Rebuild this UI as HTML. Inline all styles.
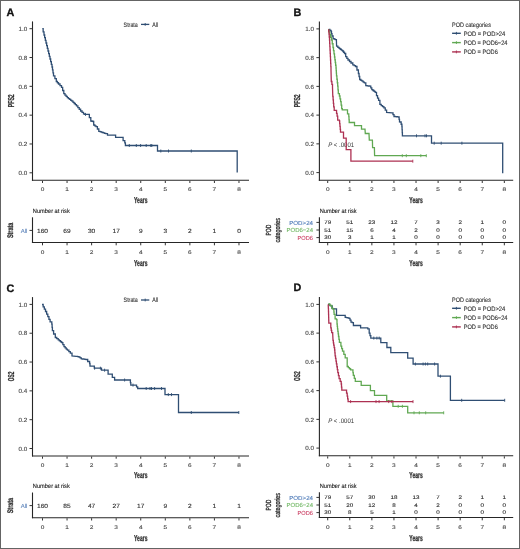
<!DOCTYPE html>
<html><head><meta charset="utf-8"><style>
html,body{margin:0;padding:0;background:#fff;}
#f{position:relative;width:520px;height:549px;overflow:hidden;background:#fff;}
#f svg{position:absolute;left:0;top:0;will-change:transform;}
#f svg text{font-family:"Liberation Sans", sans-serif;text-rendering:geometricPrecision;}
#bd{position:absolute;left:0;top:0;width:518px;height:547px;border:1px solid #646464;}
</style></head><body><div id="f">
<svg width="520" height="549" viewBox="0 0 520 549">
<text x="6.40" y="15.80" font-size="10.8" text-anchor="start" fill="#111" font-weight="bold" stroke="#111" stroke-width="0.3" stroke-linejoin="round">A</text>
<line x1="32.50" y1="21.40" x2="32.50" y2="180.80" stroke="#262626" stroke-width="1.1"/>
<line x1="31.95" y1="180.30" x2="249.00" y2="180.30" stroke="#262626" stroke-width="1.1"/>
<line x1="29.50" y1="172.80" x2="32.50" y2="172.80" stroke="#333" stroke-width="1.0"/>
<text x="27.20" y="174.98" font-size="6.1" text-anchor="end" fill="#474747" font-weight="normal" textLength="8.73" lengthAdjust="spacingAndGlyphs" stroke="#474747" stroke-width="0.12" stroke-linejoin="round">0.0</text>
<line x1="29.50" y1="143.98" x2="32.50" y2="143.98" stroke="#333" stroke-width="1.0"/>
<text x="27.20" y="146.16" font-size="6.1" text-anchor="end" fill="#474747" font-weight="normal" textLength="8.73" lengthAdjust="spacingAndGlyphs" stroke="#474747" stroke-width="0.12" stroke-linejoin="round">0.2</text>
<line x1="29.50" y1="115.16" x2="32.50" y2="115.16" stroke="#333" stroke-width="1.0"/>
<text x="27.20" y="117.34" font-size="6.1" text-anchor="end" fill="#474747" font-weight="normal" textLength="8.73" lengthAdjust="spacingAndGlyphs" stroke="#474747" stroke-width="0.12" stroke-linejoin="round">0.4</text>
<line x1="29.50" y1="86.34" x2="32.50" y2="86.34" stroke="#333" stroke-width="1.0"/>
<text x="27.20" y="88.52" font-size="6.1" text-anchor="end" fill="#474747" font-weight="normal" textLength="8.73" lengthAdjust="spacingAndGlyphs" stroke="#474747" stroke-width="0.12" stroke-linejoin="round">0.6</text>
<line x1="29.50" y1="57.52" x2="32.50" y2="57.52" stroke="#333" stroke-width="1.0"/>
<text x="27.20" y="59.70" font-size="6.1" text-anchor="end" fill="#474747" font-weight="normal" textLength="8.73" lengthAdjust="spacingAndGlyphs" stroke="#474747" stroke-width="0.12" stroke-linejoin="round">0.8</text>
<line x1="29.50" y1="28.70" x2="32.50" y2="28.70" stroke="#333" stroke-width="1.0"/>
<text x="27.20" y="30.88" font-size="6.1" text-anchor="end" fill="#474747" font-weight="normal" textLength="8.73" lengthAdjust="spacingAndGlyphs" stroke="#474747" stroke-width="0.12" stroke-linejoin="round">1.0</text>
<line x1="42.50" y1="180.80" x2="42.50" y2="183.00" stroke="#333" stroke-width="1.0"/>
<text x="42.50" y="191.13" font-size="5.4" text-anchor="middle" fill="#474747" font-weight="normal" textLength="3.6" lengthAdjust="spacingAndGlyphs" stroke="#474747" stroke-width="0.12" stroke-linejoin="round">0</text>
<line x1="67.06" y1="180.80" x2="67.06" y2="183.00" stroke="#333" stroke-width="1.0"/>
<text x="67.06" y="191.13" font-size="5.4" text-anchor="middle" fill="#474747" font-weight="normal" textLength="3.6" lengthAdjust="spacingAndGlyphs" stroke="#474747" stroke-width="0.12" stroke-linejoin="round">1</text>
<line x1="91.62" y1="180.80" x2="91.62" y2="183.00" stroke="#333" stroke-width="1.0"/>
<text x="91.62" y="191.13" font-size="5.4" text-anchor="middle" fill="#474747" font-weight="normal" textLength="3.6" lengthAdjust="spacingAndGlyphs" stroke="#474747" stroke-width="0.12" stroke-linejoin="round">2</text>
<line x1="116.18" y1="180.80" x2="116.18" y2="183.00" stroke="#333" stroke-width="1.0"/>
<text x="116.18" y="191.13" font-size="5.4" text-anchor="middle" fill="#474747" font-weight="normal" textLength="3.6" lengthAdjust="spacingAndGlyphs" stroke="#474747" stroke-width="0.12" stroke-linejoin="round">3</text>
<line x1="140.74" y1="180.80" x2="140.74" y2="183.00" stroke="#333" stroke-width="1.0"/>
<text x="140.74" y="191.13" font-size="5.4" text-anchor="middle" fill="#474747" font-weight="normal" textLength="3.6" lengthAdjust="spacingAndGlyphs" stroke="#474747" stroke-width="0.12" stroke-linejoin="round">4</text>
<line x1="165.30" y1="180.80" x2="165.30" y2="183.00" stroke="#333" stroke-width="1.0"/>
<text x="165.30" y="191.13" font-size="5.4" text-anchor="middle" fill="#474747" font-weight="normal" textLength="3.6" lengthAdjust="spacingAndGlyphs" stroke="#474747" stroke-width="0.12" stroke-linejoin="round">5</text>
<line x1="189.86" y1="180.80" x2="189.86" y2="183.00" stroke="#333" stroke-width="1.0"/>
<text x="189.86" y="191.13" font-size="5.4" text-anchor="middle" fill="#474747" font-weight="normal" textLength="3.6" lengthAdjust="spacingAndGlyphs" stroke="#474747" stroke-width="0.12" stroke-linejoin="round">6</text>
<line x1="214.42" y1="180.80" x2="214.42" y2="183.00" stroke="#333" stroke-width="1.0"/>
<text x="214.42" y="191.13" font-size="5.4" text-anchor="middle" fill="#474747" font-weight="normal" textLength="3.6" lengthAdjust="spacingAndGlyphs" stroke="#474747" stroke-width="0.12" stroke-linejoin="round">7</text>
<line x1="238.98" y1="180.80" x2="238.98" y2="183.00" stroke="#333" stroke-width="1.0"/>
<text x="238.98" y="191.13" font-size="5.4" text-anchor="middle" fill="#474747" font-weight="normal" textLength="3.6" lengthAdjust="spacingAndGlyphs" stroke="#474747" stroke-width="0.12" stroke-linejoin="round">8</text>
<text x="140.74" y="202.78" font-size="8.6" text-anchor="middle" fill="#333" font-weight="bold" textLength="13.4" lengthAdjust="spacingAndGlyphs" stroke="#333" stroke-width="0.3" stroke-linejoin="round">Years</text>
<text x="0" y="0" font-size="8.6" text-anchor="middle" fill="#333" font-weight="bold" textLength="12.8" lengthAdjust="spacingAndGlyphs" stroke="#333" stroke-width="0.3" stroke-linejoin="round" transform="translate(13.50,100.75) rotate(-90)">PFS2</text>
<text x="123.60" y="26.59" font-size="6.4" text-anchor="start" fill="#333" font-weight="normal" textLength="14.2" lengthAdjust="spacingAndGlyphs" stroke="#333" stroke-width="0.12" stroke-linejoin="round">Strata</text>
<line x1="141.00" y1="24.40" x2="149.30" y2="24.40" stroke="#2f4e73" stroke-width="1.3"/>
<line x1="145.20" y1="23.00" x2="145.20" y2="25.80" stroke="#2f4e73" stroke-width="0.9"/>
<text x="152.30" y="26.59" font-size="6.4" text-anchor="start" fill="#333" font-weight="normal" textLength="5.8" lengthAdjust="spacingAndGlyphs" stroke="#333" stroke-width="0.12" stroke-linejoin="round">All</text>
<text x="32.80" y="213.02" font-size="6.2" text-anchor="start" fill="#222" font-weight="normal" textLength="37.0" lengthAdjust="spacingAndGlyphs" stroke="#222" stroke-width="0.12" stroke-linejoin="round">Number at risk</text>
<line x1="32.50" y1="217.30" x2="32.50" y2="243.00" stroke="#262626" stroke-width="1.1"/>
<line x1="31.95" y1="242.50" x2="249.00" y2="242.50" stroke="#262626" stroke-width="1.1"/>
<line x1="42.50" y1="243.00" x2="42.50" y2="245.30" stroke="#333" stroke-width="1.0"/>
<text x="42.50" y="253.93" font-size="5.4" text-anchor="middle" fill="#474747" font-weight="normal" textLength="3.6" lengthAdjust="spacingAndGlyphs" stroke="#474747" stroke-width="0.12" stroke-linejoin="round">0</text>
<line x1="67.06" y1="243.00" x2="67.06" y2="245.30" stroke="#333" stroke-width="1.0"/>
<text x="67.06" y="253.93" font-size="5.4" text-anchor="middle" fill="#474747" font-weight="normal" textLength="3.6" lengthAdjust="spacingAndGlyphs" stroke="#474747" stroke-width="0.12" stroke-linejoin="round">1</text>
<line x1="91.62" y1="243.00" x2="91.62" y2="245.30" stroke="#333" stroke-width="1.0"/>
<text x="91.62" y="253.93" font-size="5.4" text-anchor="middle" fill="#474747" font-weight="normal" textLength="3.6" lengthAdjust="spacingAndGlyphs" stroke="#474747" stroke-width="0.12" stroke-linejoin="round">2</text>
<line x1="116.18" y1="243.00" x2="116.18" y2="245.30" stroke="#333" stroke-width="1.0"/>
<text x="116.18" y="253.93" font-size="5.4" text-anchor="middle" fill="#474747" font-weight="normal" textLength="3.6" lengthAdjust="spacingAndGlyphs" stroke="#474747" stroke-width="0.12" stroke-linejoin="round">3</text>
<line x1="140.74" y1="243.00" x2="140.74" y2="245.30" stroke="#333" stroke-width="1.0"/>
<text x="140.74" y="253.93" font-size="5.4" text-anchor="middle" fill="#474747" font-weight="normal" textLength="3.6" lengthAdjust="spacingAndGlyphs" stroke="#474747" stroke-width="0.12" stroke-linejoin="round">4</text>
<line x1="165.30" y1="243.00" x2="165.30" y2="245.30" stroke="#333" stroke-width="1.0"/>
<text x="165.30" y="253.93" font-size="5.4" text-anchor="middle" fill="#474747" font-weight="normal" textLength="3.6" lengthAdjust="spacingAndGlyphs" stroke="#474747" stroke-width="0.12" stroke-linejoin="round">5</text>
<line x1="189.86" y1="243.00" x2="189.86" y2="245.30" stroke="#333" stroke-width="1.0"/>
<text x="189.86" y="253.93" font-size="5.4" text-anchor="middle" fill="#474747" font-weight="normal" textLength="3.6" lengthAdjust="spacingAndGlyphs" stroke="#474747" stroke-width="0.12" stroke-linejoin="round">6</text>
<line x1="214.42" y1="243.00" x2="214.42" y2="245.30" stroke="#333" stroke-width="1.0"/>
<text x="214.42" y="253.93" font-size="5.4" text-anchor="middle" fill="#474747" font-weight="normal" textLength="3.6" lengthAdjust="spacingAndGlyphs" stroke="#474747" stroke-width="0.12" stroke-linejoin="round">7</text>
<line x1="238.98" y1="243.00" x2="238.98" y2="245.30" stroke="#333" stroke-width="1.0"/>
<text x="238.98" y="253.93" font-size="5.4" text-anchor="middle" fill="#474747" font-weight="normal" textLength="3.6" lengthAdjust="spacingAndGlyphs" stroke="#474747" stroke-width="0.12" stroke-linejoin="round">8</text>
<text x="140.74" y="266.08" font-size="8.6" text-anchor="middle" fill="#333" font-weight="bold" textLength="13.4" lengthAdjust="spacingAndGlyphs" stroke="#333" stroke-width="0.3" stroke-linejoin="round">Years</text>
<line x1="29.50" y1="230.40" x2="32.50" y2="230.40" stroke="#333" stroke-width="1.0"/>
<text x="27.30" y="232.51" font-size="5.9" text-anchor="end" fill="#5f86bb" font-weight="normal" textLength="6.6" lengthAdjust="spacingAndGlyphs" stroke="#5f86bb" stroke-width="0.12" stroke-linejoin="round">All</text>
<text x="42.50" y="232.55" font-size="6.0" text-anchor="middle" fill="#2e2e2e" font-weight="normal" textLength="11.01" lengthAdjust="spacingAndGlyphs" stroke="#2e2e2e" stroke-width="0.12" stroke-linejoin="round">160</text>
<text x="67.06" y="232.55" font-size="6.0" text-anchor="middle" fill="#2e2e2e" font-weight="normal" textLength="7.34" lengthAdjust="spacingAndGlyphs" stroke="#2e2e2e" stroke-width="0.12" stroke-linejoin="round">69</text>
<text x="91.62" y="232.55" font-size="6.0" text-anchor="middle" fill="#2e2e2e" font-weight="normal" textLength="7.34" lengthAdjust="spacingAndGlyphs" stroke="#2e2e2e" stroke-width="0.12" stroke-linejoin="round">30</text>
<text x="116.18" y="232.55" font-size="6.0" text-anchor="middle" fill="#2e2e2e" font-weight="normal" textLength="7.34" lengthAdjust="spacingAndGlyphs" stroke="#2e2e2e" stroke-width="0.12" stroke-linejoin="round">17</text>
<text x="140.74" y="232.55" font-size="6.0" text-anchor="middle" fill="#2e2e2e" font-weight="normal" textLength="3.67" lengthAdjust="spacingAndGlyphs" stroke="#2e2e2e" stroke-width="0.12" stroke-linejoin="round">9</text>
<text x="165.30" y="232.55" font-size="6.0" text-anchor="middle" fill="#2e2e2e" font-weight="normal" textLength="3.67" lengthAdjust="spacingAndGlyphs" stroke="#2e2e2e" stroke-width="0.12" stroke-linejoin="round">3</text>
<text x="189.86" y="232.55" font-size="6.0" text-anchor="middle" fill="#2e2e2e" font-weight="normal" textLength="3.67" lengthAdjust="spacingAndGlyphs" stroke="#2e2e2e" stroke-width="0.12" stroke-linejoin="round">2</text>
<text x="214.42" y="232.55" font-size="6.0" text-anchor="middle" fill="#2e2e2e" font-weight="normal" textLength="3.67" lengthAdjust="spacingAndGlyphs" stroke="#2e2e2e" stroke-width="0.12" stroke-linejoin="round">1</text>
<text x="238.98" y="232.55" font-size="6.0" text-anchor="middle" fill="#2e2e2e" font-weight="normal" textLength="3.67" lengthAdjust="spacingAndGlyphs" stroke="#2e2e2e" stroke-width="0.12" stroke-linejoin="round">0</text>
<text x="0" y="0" font-size="8.2" text-anchor="middle" fill="#333" font-weight="bold" textLength="15.4" lengthAdjust="spacingAndGlyphs" stroke="#333" stroke-width="0.3" stroke-linejoin="round" transform="translate(13.10,230.40) rotate(-90)">Strata</text>
<path d="M42.30,28.70H43.15V31.85H44.00V35.00H44.67V37.67H45.33V40.33H46.00V43.00H46.67V45.67H47.33V48.33H48.00V51.00H48.67V53.67H49.33V56.33H50.00V59.00H50.67V61.67H51.33V64.33H52.00V67.00H52.50V69.93H53.00V72.87H53.50V75.80H54.90V78.65H56.30V81.50H57.40V82.75H58.50V84.00H60.00V85.65H61.50V87.30H62.65V90.50H63.80V93.70H64.97V95.03H66.13V96.37H67.30V97.70H68.45V98.58H69.60V99.45H70.75V100.33H71.90V101.20H73.05V102.35H74.20V103.50H75.35V104.65H76.50V105.80H77.87V107.53H79.23V109.27H80.60V111.00H82.05V112.40H83.50V113.80H84.50V114.40L87.90,114.40H89.35V117.70H90.80V121.00H91.95V121.25H93.10V121.50H93.70V125.00H94.85V125.85H96.00V126.70H97.40V129.00H98.80V131.30H99.97V131.70H101.13V132.10H102.30V132.50H103.47V132.90H104.63V133.30H105.80V133.70H107.50V135.20L115.00,135.20H115.60V137.30L121.30,137.30H123.10V140.60H124.80V142.90H125.40V145.50L157.50,145.50L157.50,151.00L237.20,151.00L237.20,172.50" fill="none" stroke="#2f4e73" stroke-width="1.3" stroke-linejoin="miter"/>
<line x1="129.30" y1="144.00" x2="129.30" y2="147.00" stroke="#2f4e73" stroke-width="0.9"/>
<line x1="136.30" y1="144.00" x2="136.30" y2="147.00" stroke="#2f4e73" stroke-width="0.9"/>
<line x1="140.60" y1="144.00" x2="140.60" y2="147.00" stroke="#2f4e73" stroke-width="0.9"/>
<line x1="146.20" y1="144.00" x2="146.20" y2="147.00" stroke="#2f4e73" stroke-width="0.9"/>
<line x1="150.80" y1="144.00" x2="150.80" y2="147.00" stroke="#2f4e73" stroke-width="0.9"/>
<line x1="151.80" y1="144.00" x2="151.80" y2="147.00" stroke="#2f4e73" stroke-width="0.9"/>
<line x1="85.50" y1="112.90" x2="85.50" y2="115.90" stroke="#2f4e73" stroke-width="0.9"/>
<line x1="160.80" y1="149.50" x2="160.80" y2="152.50" stroke="#2f4e73" stroke-width="0.9"/>
<line x1="168.50" y1="149.50" x2="168.50" y2="152.50" stroke="#2f4e73" stroke-width="0.9"/>
<line x1="191.30" y1="149.50" x2="191.30" y2="152.50" stroke="#2f4e73" stroke-width="0.9"/>
<text x="293.40" y="15.80" font-size="10.8" text-anchor="start" fill="#111" font-weight="bold" stroke="#111" stroke-width="0.3" stroke-linejoin="round">B</text>
<line x1="319.40" y1="21.40" x2="319.40" y2="180.80" stroke="#262626" stroke-width="1.1"/>
<line x1="318.85" y1="180.30" x2="513.20" y2="180.30" stroke="#262626" stroke-width="1.1"/>
<line x1="316.40" y1="172.60" x2="319.40" y2="172.60" stroke="#333" stroke-width="1.0"/>
<text x="314.10" y="174.78" font-size="6.1" text-anchor="end" fill="#474747" font-weight="normal" textLength="8.73" lengthAdjust="spacingAndGlyphs" stroke="#474747" stroke-width="0.12" stroke-linejoin="round">0.0</text>
<line x1="316.40" y1="143.86" x2="319.40" y2="143.86" stroke="#333" stroke-width="1.0"/>
<text x="314.10" y="146.04" font-size="6.1" text-anchor="end" fill="#474747" font-weight="normal" textLength="8.73" lengthAdjust="spacingAndGlyphs" stroke="#474747" stroke-width="0.12" stroke-linejoin="round">0.2</text>
<line x1="316.40" y1="115.12" x2="319.40" y2="115.12" stroke="#333" stroke-width="1.0"/>
<text x="314.10" y="117.30" font-size="6.1" text-anchor="end" fill="#474747" font-weight="normal" textLength="8.73" lengthAdjust="spacingAndGlyphs" stroke="#474747" stroke-width="0.12" stroke-linejoin="round">0.4</text>
<line x1="316.40" y1="86.38" x2="319.40" y2="86.38" stroke="#333" stroke-width="1.0"/>
<text x="314.10" y="88.56" font-size="6.1" text-anchor="end" fill="#474747" font-weight="normal" textLength="8.73" lengthAdjust="spacingAndGlyphs" stroke="#474747" stroke-width="0.12" stroke-linejoin="round">0.6</text>
<line x1="316.40" y1="57.64" x2="319.40" y2="57.64" stroke="#333" stroke-width="1.0"/>
<text x="314.10" y="59.82" font-size="6.1" text-anchor="end" fill="#474747" font-weight="normal" textLength="8.73" lengthAdjust="spacingAndGlyphs" stroke="#474747" stroke-width="0.12" stroke-linejoin="round">0.8</text>
<line x1="316.40" y1="28.90" x2="319.40" y2="28.90" stroke="#333" stroke-width="1.0"/>
<text x="314.10" y="31.08" font-size="6.1" text-anchor="end" fill="#474747" font-weight="normal" textLength="8.73" lengthAdjust="spacingAndGlyphs" stroke="#474747" stroke-width="0.12" stroke-linejoin="round">1.0</text>
<line x1="327.70" y1="180.80" x2="327.70" y2="183.00" stroke="#333" stroke-width="1.0"/>
<text x="327.70" y="191.13" font-size="5.4" text-anchor="middle" fill="#474747" font-weight="normal" textLength="3.6" lengthAdjust="spacingAndGlyphs" stroke="#474747" stroke-width="0.12" stroke-linejoin="round">0</text>
<line x1="349.78" y1="180.80" x2="349.78" y2="183.00" stroke="#333" stroke-width="1.0"/>
<text x="349.78" y="191.13" font-size="5.4" text-anchor="middle" fill="#474747" font-weight="normal" textLength="3.6" lengthAdjust="spacingAndGlyphs" stroke="#474747" stroke-width="0.12" stroke-linejoin="round">1</text>
<line x1="371.86" y1="180.80" x2="371.86" y2="183.00" stroke="#333" stroke-width="1.0"/>
<text x="371.86" y="191.13" font-size="5.4" text-anchor="middle" fill="#474747" font-weight="normal" textLength="3.6" lengthAdjust="spacingAndGlyphs" stroke="#474747" stroke-width="0.12" stroke-linejoin="round">2</text>
<line x1="393.94" y1="180.80" x2="393.94" y2="183.00" stroke="#333" stroke-width="1.0"/>
<text x="393.94" y="191.13" font-size="5.4" text-anchor="middle" fill="#474747" font-weight="normal" textLength="3.6" lengthAdjust="spacingAndGlyphs" stroke="#474747" stroke-width="0.12" stroke-linejoin="round">3</text>
<line x1="416.02" y1="180.80" x2="416.02" y2="183.00" stroke="#333" stroke-width="1.0"/>
<text x="416.02" y="191.13" font-size="5.4" text-anchor="middle" fill="#474747" font-weight="normal" textLength="3.6" lengthAdjust="spacingAndGlyphs" stroke="#474747" stroke-width="0.12" stroke-linejoin="round">4</text>
<line x1="438.10" y1="180.80" x2="438.10" y2="183.00" stroke="#333" stroke-width="1.0"/>
<text x="438.10" y="191.13" font-size="5.4" text-anchor="middle" fill="#474747" font-weight="normal" textLength="3.6" lengthAdjust="spacingAndGlyphs" stroke="#474747" stroke-width="0.12" stroke-linejoin="round">5</text>
<line x1="460.18" y1="180.80" x2="460.18" y2="183.00" stroke="#333" stroke-width="1.0"/>
<text x="460.18" y="191.13" font-size="5.4" text-anchor="middle" fill="#474747" font-weight="normal" textLength="3.6" lengthAdjust="spacingAndGlyphs" stroke="#474747" stroke-width="0.12" stroke-linejoin="round">6</text>
<line x1="482.26" y1="180.80" x2="482.26" y2="183.00" stroke="#333" stroke-width="1.0"/>
<text x="482.26" y="191.13" font-size="5.4" text-anchor="middle" fill="#474747" font-weight="normal" textLength="3.6" lengthAdjust="spacingAndGlyphs" stroke="#474747" stroke-width="0.12" stroke-linejoin="round">7</text>
<line x1="504.34" y1="180.80" x2="504.34" y2="183.00" stroke="#333" stroke-width="1.0"/>
<text x="504.34" y="191.13" font-size="5.4" text-anchor="middle" fill="#474747" font-weight="normal" textLength="3.6" lengthAdjust="spacingAndGlyphs" stroke="#474747" stroke-width="0.12" stroke-linejoin="round">8</text>
<text x="416.02" y="202.78" font-size="8.6" text-anchor="middle" fill="#333" font-weight="bold" textLength="13.4" lengthAdjust="spacingAndGlyphs" stroke="#333" stroke-width="0.3" stroke-linejoin="round">Years</text>
<text x="0" y="0" font-size="8.6" text-anchor="middle" fill="#333" font-weight="bold" textLength="12.8" lengthAdjust="spacingAndGlyphs" stroke="#333" stroke-width="0.3" stroke-linejoin="round" transform="translate(300.40,100.75) rotate(-90)">PFS2</text>
<text x="452.10" y="26.79" font-size="6.4" text-anchor="start" fill="#333" font-weight="normal" textLength="38.8" lengthAdjust="spacingAndGlyphs" stroke="#333" stroke-width="0.12" stroke-linejoin="round">POD categories</text>
<line x1="452.10" y1="33.30" x2="460.80" y2="33.30" stroke="#2f4e73" stroke-width="1.4"/>
<line x1="456.40" y1="31.90" x2="456.40" y2="34.70" stroke="#2f4e73" stroke-width="0.9"/>
<text x="463.70" y="35.59" font-size="6.4" text-anchor="start" fill="#333" font-weight="normal" textLength="41.6" lengthAdjust="spacingAndGlyphs" stroke="#333" stroke-width="0.12" stroke-linejoin="round">POD = POD&gt;24</text>
<line x1="452.10" y1="42.60" x2="460.80" y2="42.60" stroke="#60a852" stroke-width="1.4"/>
<line x1="456.40" y1="41.20" x2="456.40" y2="44.00" stroke="#60a852" stroke-width="0.9"/>
<text x="463.70" y="44.89" font-size="6.4" text-anchor="start" fill="#333" font-weight="normal" textLength="43.8" lengthAdjust="spacingAndGlyphs" stroke="#333" stroke-width="0.12" stroke-linejoin="round">POD = POD6−24</text>
<line x1="452.10" y1="51.90" x2="460.80" y2="51.90" stroke="#ad3152" stroke-width="1.4"/>
<line x1="456.40" y1="50.50" x2="456.40" y2="53.30" stroke="#ad3152" stroke-width="0.9"/>
<text x="463.70" y="54.19" font-size="6.4" text-anchor="start" fill="#333" font-weight="normal" textLength="34.1" lengthAdjust="spacingAndGlyphs" stroke="#333" stroke-width="0.12" stroke-linejoin="round">POD = POD6</text>
<text x="319.70" y="213.02" font-size="6.2" text-anchor="start" fill="#222" font-weight="normal" textLength="37.0" lengthAdjust="spacingAndGlyphs" stroke="#222" stroke-width="0.12" stroke-linejoin="round">Number at risk</text>
<line x1="319.40" y1="217.30" x2="319.40" y2="243.00" stroke="#262626" stroke-width="1.1"/>
<line x1="318.85" y1="242.50" x2="513.20" y2="242.50" stroke="#262626" stroke-width="1.1"/>
<line x1="327.70" y1="243.00" x2="327.70" y2="245.30" stroke="#333" stroke-width="1.0"/>
<text x="327.70" y="253.93" font-size="5.4" text-anchor="middle" fill="#474747" font-weight="normal" textLength="3.6" lengthAdjust="spacingAndGlyphs" stroke="#474747" stroke-width="0.12" stroke-linejoin="round">0</text>
<line x1="349.78" y1="243.00" x2="349.78" y2="245.30" stroke="#333" stroke-width="1.0"/>
<text x="349.78" y="253.93" font-size="5.4" text-anchor="middle" fill="#474747" font-weight="normal" textLength="3.6" lengthAdjust="spacingAndGlyphs" stroke="#474747" stroke-width="0.12" stroke-linejoin="round">1</text>
<line x1="371.86" y1="243.00" x2="371.86" y2="245.30" stroke="#333" stroke-width="1.0"/>
<text x="371.86" y="253.93" font-size="5.4" text-anchor="middle" fill="#474747" font-weight="normal" textLength="3.6" lengthAdjust="spacingAndGlyphs" stroke="#474747" stroke-width="0.12" stroke-linejoin="round">2</text>
<line x1="393.94" y1="243.00" x2="393.94" y2="245.30" stroke="#333" stroke-width="1.0"/>
<text x="393.94" y="253.93" font-size="5.4" text-anchor="middle" fill="#474747" font-weight="normal" textLength="3.6" lengthAdjust="spacingAndGlyphs" stroke="#474747" stroke-width="0.12" stroke-linejoin="round">3</text>
<line x1="416.02" y1="243.00" x2="416.02" y2="245.30" stroke="#333" stroke-width="1.0"/>
<text x="416.02" y="253.93" font-size="5.4" text-anchor="middle" fill="#474747" font-weight="normal" textLength="3.6" lengthAdjust="spacingAndGlyphs" stroke="#474747" stroke-width="0.12" stroke-linejoin="round">4</text>
<line x1="438.10" y1="243.00" x2="438.10" y2="245.30" stroke="#333" stroke-width="1.0"/>
<text x="438.10" y="253.93" font-size="5.4" text-anchor="middle" fill="#474747" font-weight="normal" textLength="3.6" lengthAdjust="spacingAndGlyphs" stroke="#474747" stroke-width="0.12" stroke-linejoin="round">5</text>
<line x1="460.18" y1="243.00" x2="460.18" y2="245.30" stroke="#333" stroke-width="1.0"/>
<text x="460.18" y="253.93" font-size="5.4" text-anchor="middle" fill="#474747" font-weight="normal" textLength="3.6" lengthAdjust="spacingAndGlyphs" stroke="#474747" stroke-width="0.12" stroke-linejoin="round">6</text>
<line x1="482.26" y1="243.00" x2="482.26" y2="245.30" stroke="#333" stroke-width="1.0"/>
<text x="482.26" y="253.93" font-size="5.4" text-anchor="middle" fill="#474747" font-weight="normal" textLength="3.6" lengthAdjust="spacingAndGlyphs" stroke="#474747" stroke-width="0.12" stroke-linejoin="round">7</text>
<line x1="504.34" y1="243.00" x2="504.34" y2="245.30" stroke="#333" stroke-width="1.0"/>
<text x="504.34" y="253.93" font-size="5.4" text-anchor="middle" fill="#474747" font-weight="normal" textLength="3.6" lengthAdjust="spacingAndGlyphs" stroke="#474747" stroke-width="0.12" stroke-linejoin="round">8</text>
<text x="416.02" y="266.08" font-size="8.6" text-anchor="middle" fill="#333" font-weight="bold" textLength="13.4" lengthAdjust="spacingAndGlyphs" stroke="#333" stroke-width="0.3" stroke-linejoin="round">Years</text>
<line x1="316.40" y1="222.40" x2="319.40" y2="222.40" stroke="#333" stroke-width="1.0"/>
<text x="313.00" y="224.51" font-size="5.9" text-anchor="end" fill="#4f7bb8" font-weight="normal" textLength="23.8" lengthAdjust="spacingAndGlyphs" stroke="#4f7bb8" stroke-width="0.12" stroke-linejoin="round">POD&gt;24</text>
<text x="327.70" y="224.26" font-size="5.2" text-anchor="middle" fill="#2e2e2e" font-weight="normal" textLength="6.94" lengthAdjust="spacingAndGlyphs" stroke="#2e2e2e" stroke-width="0.12" stroke-linejoin="round">79</text>
<text x="349.78" y="224.26" font-size="5.2" text-anchor="middle" fill="#2e2e2e" font-weight="normal" textLength="6.94" lengthAdjust="spacingAndGlyphs" stroke="#2e2e2e" stroke-width="0.12" stroke-linejoin="round">51</text>
<text x="371.86" y="224.26" font-size="5.2" text-anchor="middle" fill="#2e2e2e" font-weight="normal" textLength="6.94" lengthAdjust="spacingAndGlyphs" stroke="#2e2e2e" stroke-width="0.12" stroke-linejoin="round">23</text>
<text x="393.94" y="224.26" font-size="5.2" text-anchor="middle" fill="#2e2e2e" font-weight="normal" textLength="6.94" lengthAdjust="spacingAndGlyphs" stroke="#2e2e2e" stroke-width="0.12" stroke-linejoin="round">12</text>
<text x="416.02" y="224.26" font-size="5.2" text-anchor="middle" fill="#2e2e2e" font-weight="normal" textLength="3.47" lengthAdjust="spacingAndGlyphs" stroke="#2e2e2e" stroke-width="0.12" stroke-linejoin="round">7</text>
<text x="438.10" y="224.26" font-size="5.2" text-anchor="middle" fill="#2e2e2e" font-weight="normal" textLength="3.47" lengthAdjust="spacingAndGlyphs" stroke="#2e2e2e" stroke-width="0.12" stroke-linejoin="round">3</text>
<text x="460.18" y="224.26" font-size="5.2" text-anchor="middle" fill="#2e2e2e" font-weight="normal" textLength="3.47" lengthAdjust="spacingAndGlyphs" stroke="#2e2e2e" stroke-width="0.12" stroke-linejoin="round">2</text>
<text x="482.26" y="224.26" font-size="5.2" text-anchor="middle" fill="#2e2e2e" font-weight="normal" textLength="3.47" lengthAdjust="spacingAndGlyphs" stroke="#2e2e2e" stroke-width="0.12" stroke-linejoin="round">1</text>
<text x="504.34" y="224.26" font-size="5.2" text-anchor="middle" fill="#2e2e2e" font-weight="normal" textLength="3.47" lengthAdjust="spacingAndGlyphs" stroke="#2e2e2e" stroke-width="0.12" stroke-linejoin="round">0</text>
<line x1="316.40" y1="230.00" x2="319.40" y2="230.00" stroke="#333" stroke-width="1.0"/>
<text x="313.00" y="232.11" font-size="5.9" text-anchor="end" fill="#72b866" font-weight="normal" textLength="26.4" lengthAdjust="spacingAndGlyphs" stroke="#72b866" stroke-width="0.12" stroke-linejoin="round">POD6−24</text>
<text x="327.70" y="231.86" font-size="5.2" text-anchor="middle" fill="#2e2e2e" font-weight="normal" textLength="6.94" lengthAdjust="spacingAndGlyphs" stroke="#2e2e2e" stroke-width="0.12" stroke-linejoin="round">51</text>
<text x="349.78" y="231.86" font-size="5.2" text-anchor="middle" fill="#2e2e2e" font-weight="normal" textLength="6.94" lengthAdjust="spacingAndGlyphs" stroke="#2e2e2e" stroke-width="0.12" stroke-linejoin="round">15</text>
<text x="371.86" y="231.86" font-size="5.2" text-anchor="middle" fill="#2e2e2e" font-weight="normal" textLength="3.47" lengthAdjust="spacingAndGlyphs" stroke="#2e2e2e" stroke-width="0.12" stroke-linejoin="round">6</text>
<text x="393.94" y="231.86" font-size="5.2" text-anchor="middle" fill="#2e2e2e" font-weight="normal" textLength="3.47" lengthAdjust="spacingAndGlyphs" stroke="#2e2e2e" stroke-width="0.12" stroke-linejoin="round">4</text>
<text x="416.02" y="231.86" font-size="5.2" text-anchor="middle" fill="#2e2e2e" font-weight="normal" textLength="3.47" lengthAdjust="spacingAndGlyphs" stroke="#2e2e2e" stroke-width="0.12" stroke-linejoin="round">2</text>
<text x="438.10" y="231.86" font-size="5.2" text-anchor="middle" fill="#2e2e2e" font-weight="normal" textLength="3.47" lengthAdjust="spacingAndGlyphs" stroke="#2e2e2e" stroke-width="0.12" stroke-linejoin="round">0</text>
<text x="460.18" y="231.86" font-size="5.2" text-anchor="middle" fill="#2e2e2e" font-weight="normal" textLength="3.47" lengthAdjust="spacingAndGlyphs" stroke="#2e2e2e" stroke-width="0.12" stroke-linejoin="round">0</text>
<text x="482.26" y="231.86" font-size="5.2" text-anchor="middle" fill="#2e2e2e" font-weight="normal" textLength="3.47" lengthAdjust="spacingAndGlyphs" stroke="#2e2e2e" stroke-width="0.12" stroke-linejoin="round">0</text>
<text x="504.34" y="231.86" font-size="5.2" text-anchor="middle" fill="#2e2e2e" font-weight="normal" textLength="3.47" lengthAdjust="spacingAndGlyphs" stroke="#2e2e2e" stroke-width="0.12" stroke-linejoin="round">0</text>
<line x1="316.40" y1="237.60" x2="319.40" y2="237.60" stroke="#333" stroke-width="1.0"/>
<text x="313.00" y="239.71" font-size="5.9" text-anchor="end" fill="#cc4467" font-weight="normal" textLength="15.4" lengthAdjust="spacingAndGlyphs" stroke="#cc4467" stroke-width="0.12" stroke-linejoin="round">POD6</text>
<text x="327.70" y="239.46" font-size="5.2" text-anchor="middle" fill="#2e2e2e" font-weight="normal" textLength="6.94" lengthAdjust="spacingAndGlyphs" stroke="#2e2e2e" stroke-width="0.12" stroke-linejoin="round">30</text>
<text x="349.78" y="239.46" font-size="5.2" text-anchor="middle" fill="#2e2e2e" font-weight="normal" textLength="3.47" lengthAdjust="spacingAndGlyphs" stroke="#2e2e2e" stroke-width="0.12" stroke-linejoin="round">3</text>
<text x="371.86" y="239.46" font-size="5.2" text-anchor="middle" fill="#2e2e2e" font-weight="normal" textLength="3.47" lengthAdjust="spacingAndGlyphs" stroke="#2e2e2e" stroke-width="0.12" stroke-linejoin="round">1</text>
<text x="393.94" y="239.46" font-size="5.2" text-anchor="middle" fill="#2e2e2e" font-weight="normal" textLength="3.47" lengthAdjust="spacingAndGlyphs" stroke="#2e2e2e" stroke-width="0.12" stroke-linejoin="round">1</text>
<text x="416.02" y="239.46" font-size="5.2" text-anchor="middle" fill="#2e2e2e" font-weight="normal" textLength="3.47" lengthAdjust="spacingAndGlyphs" stroke="#2e2e2e" stroke-width="0.12" stroke-linejoin="round">0</text>
<text x="438.10" y="239.46" font-size="5.2" text-anchor="middle" fill="#2e2e2e" font-weight="normal" textLength="3.47" lengthAdjust="spacingAndGlyphs" stroke="#2e2e2e" stroke-width="0.12" stroke-linejoin="round">0</text>
<text x="460.18" y="239.46" font-size="5.2" text-anchor="middle" fill="#2e2e2e" font-weight="normal" textLength="3.47" lengthAdjust="spacingAndGlyphs" stroke="#2e2e2e" stroke-width="0.12" stroke-linejoin="round">0</text>
<text x="482.26" y="239.46" font-size="5.2" text-anchor="middle" fill="#2e2e2e" font-weight="normal" textLength="3.47" lengthAdjust="spacingAndGlyphs" stroke="#2e2e2e" stroke-width="0.12" stroke-linejoin="round">0</text>
<text x="504.34" y="239.46" font-size="5.2" text-anchor="middle" fill="#2e2e2e" font-weight="normal" textLength="3.47" lengthAdjust="spacingAndGlyphs" stroke="#2e2e2e" stroke-width="0.12" stroke-linejoin="round">0</text>
<text x="0" y="0" font-size="7.4" text-anchor="middle" fill="#2a2a2a" font-weight="normal" textLength="10.8" lengthAdjust="spacingAndGlyphs" stroke="#2a2a2a" stroke-width="0.3" stroke-linejoin="round" transform="translate(270.70,230.10) rotate(-90)">POD</text>
<text x="0" y="0" font-size="7.4" text-anchor="middle" fill="#2a2a2a" font-weight="normal" textLength="24.4" lengthAdjust="spacingAndGlyphs" stroke="#2a2a2a" stroke-width="0.3" stroke-linejoin="round" transform="translate(279.50,230.30) rotate(-90)">categories</text>
<text x="328.20" y="147.00" font-size="6.6" fill="#333" textLength="25.9" lengthAdjust="spacingAndGlyphs"><tspan font-style="italic">P</tspan> &lt; .0001</text>
<path d="M328.70,29.30H329.85V30.40H331.00V31.50H331.50V33.75H332.00V36.00H333.10V38.60H334.20V39.13H335.30V39.67H336.40V40.20L336.60,46.20H337.85V47.30H339.10V48.40H340.23V49.27H341.37V50.13H342.50V51.00H343.50V52.25H344.50V53.50H345.70V56.60H346.85V58.30H348.00V60.00H349.50V61.50H351.00V63.00H352.80V64.80H354.15V65.65H355.50V66.50H356.95V70.00H358.40V73.50H359.05V76.50H359.70V79.50H360.88V80.35H362.05V81.20H363.22V82.05H364.40V82.90H365.80V85.60H367.13V85.80H368.47V86.00H369.80V86.20H370.80V87.90H371.80V89.60H372.93V90.50H374.07V91.40H375.20V92.30H376.50V95.70H377.55V98.05H378.60V100.40H379.90V104.40H381.23V105.53H382.57V106.67H383.90V107.80H385.25V110.15H386.60V112.50L392.00,112.80H393.00V114.65H394.00V116.50H395.18V116.62H396.35V116.75H397.52V116.88H398.70V117.00H399.10V119.45H399.50V121.90L400.40,122.00H401.15V124.25H401.90V126.50H402.07V129.60H402.23V132.70H402.40V135.80L431.50,135.80L431.50,143.20L502.70,143.20L502.70,173.30" fill="none" stroke="#2f4e73" stroke-width="1.3" stroke-linejoin="miter"/>
<line x1="416.50" y1="134.30" x2="416.50" y2="137.30" stroke="#2f4e73" stroke-width="0.9"/>
<line x1="425.00" y1="134.30" x2="425.00" y2="137.30" stroke="#2f4e73" stroke-width="0.9"/>
<line x1="426.50" y1="134.30" x2="426.50" y2="137.30" stroke="#2f4e73" stroke-width="0.9"/>
<line x1="434.20" y1="141.70" x2="434.20" y2="144.70" stroke="#2f4e73" stroke-width="0.9"/>
<line x1="441.20" y1="141.70" x2="441.20" y2="144.70" stroke="#2f4e73" stroke-width="0.9"/>
<line x1="461.90" y1="141.70" x2="461.90" y2="144.70" stroke="#2f4e73" stroke-width="0.9"/>
<path d="M328.70,29.30L329.00,32.00H329.83V34.67H330.67V37.33H331.50V40.00H332.25V43.75H333.00V47.50H333.50V50.67H334.00V53.83H334.50V57.00H334.88V59.75H335.25V62.50H335.62V65.25H336.00V68.00H336.17V70.60H336.33V73.20H336.50V75.80H336.90V79.27H337.30V82.73H337.70V86.20H338.00V89.95H338.30V93.70H339.40V96.00H340.00V98.85H340.60V101.70H341.15V105.20H341.70V108.70H342.30V109.80L346.30,109.80H347.50V113.80H348.80V116.70H349.00V119.60H349.20V122.50L354.00,122.50H354.50V125.70L361.00,125.70H361.50V129.20L365.00,129.20L365.30,133.50L369.00,133.50L369.30,140.20L372.40,140.20L372.60,147.60L374.40,147.60L374.60,155.70L426.30,155.70" fill="none" stroke="#60a852" stroke-width="1.3" stroke-linejoin="miter"/>
<line x1="402.30" y1="154.20" x2="402.30" y2="157.20" stroke="#60a852" stroke-width="0.9"/>
<line x1="406.30" y1="154.20" x2="406.30" y2="157.20" stroke="#60a852" stroke-width="0.9"/>
<line x1="420.80" y1="154.20" x2="420.80" y2="157.20" stroke="#60a852" stroke-width="0.9"/>
<line x1="426.30" y1="154.20" x2="426.30" y2="157.20" stroke="#60a852" stroke-width="0.9"/>
<path d="M328.70,29.30L328.70,31.00H328.97V34.00H329.23V37.00H329.50V40.00H329.67V43.33H329.83V46.67H330.00V50.00H330.17V53.33H330.33V56.67H330.50V60.00H330.67V63.33H330.83V66.67H331.00V70.00L331.30,81.50H331.90V84.40H332.50V87.30L332.80,96.50H333.10V99.97H333.40V103.43H333.70V106.90H334.20V110.40L336.00,110.40H336.55V113.30H337.10V116.20H337.70V120.20H339.40V120.80H339.67V123.62H339.95V126.45H340.23V129.28H340.50V132.10L343.50,132.10L343.50,138.20L346.20,138.20L346.20,149.60L350.90,149.60L350.90,161.20L412.80,161.20" fill="none" stroke="#ad3152" stroke-width="1.3" stroke-linejoin="miter"/>
<line x1="412.80" y1="159.70" x2="412.80" y2="162.70" stroke="#ad3152" stroke-width="0.9"/>
<text x="6.40" y="291.50" font-size="10.8" text-anchor="start" fill="#111" font-weight="bold" stroke="#111" stroke-width="0.3" stroke-linejoin="round">C</text>
<line x1="32.50" y1="297.10" x2="32.50" y2="456.50" stroke="#262626" stroke-width="1.1"/>
<line x1="31.95" y1="456.00" x2="249.00" y2="456.00" stroke="#262626" stroke-width="1.1"/>
<line x1="29.50" y1="448.50" x2="32.50" y2="448.50" stroke="#333" stroke-width="1.0"/>
<text x="27.20" y="450.68" font-size="6.1" text-anchor="end" fill="#474747" font-weight="normal" textLength="8.73" lengthAdjust="spacingAndGlyphs" stroke="#474747" stroke-width="0.12" stroke-linejoin="round">0.0</text>
<line x1="29.50" y1="419.68" x2="32.50" y2="419.68" stroke="#333" stroke-width="1.0"/>
<text x="27.20" y="421.86" font-size="6.1" text-anchor="end" fill="#474747" font-weight="normal" textLength="8.73" lengthAdjust="spacingAndGlyphs" stroke="#474747" stroke-width="0.12" stroke-linejoin="round">0.2</text>
<line x1="29.50" y1="390.86" x2="32.50" y2="390.86" stroke="#333" stroke-width="1.0"/>
<text x="27.20" y="393.04" font-size="6.1" text-anchor="end" fill="#474747" font-weight="normal" textLength="8.73" lengthAdjust="spacingAndGlyphs" stroke="#474747" stroke-width="0.12" stroke-linejoin="round">0.4</text>
<line x1="29.50" y1="362.04" x2="32.50" y2="362.04" stroke="#333" stroke-width="1.0"/>
<text x="27.20" y="364.22" font-size="6.1" text-anchor="end" fill="#474747" font-weight="normal" textLength="8.73" lengthAdjust="spacingAndGlyphs" stroke="#474747" stroke-width="0.12" stroke-linejoin="round">0.6</text>
<line x1="29.50" y1="333.22" x2="32.50" y2="333.22" stroke="#333" stroke-width="1.0"/>
<text x="27.20" y="335.40" font-size="6.1" text-anchor="end" fill="#474747" font-weight="normal" textLength="8.73" lengthAdjust="spacingAndGlyphs" stroke="#474747" stroke-width="0.12" stroke-linejoin="round">0.8</text>
<line x1="29.50" y1="304.40" x2="32.50" y2="304.40" stroke="#333" stroke-width="1.0"/>
<text x="27.20" y="306.58" font-size="6.1" text-anchor="end" fill="#474747" font-weight="normal" textLength="8.73" lengthAdjust="spacingAndGlyphs" stroke="#474747" stroke-width="0.12" stroke-linejoin="round">1.0</text>
<line x1="42.50" y1="456.50" x2="42.50" y2="458.70" stroke="#333" stroke-width="1.0"/>
<text x="42.50" y="466.83" font-size="5.4" text-anchor="middle" fill="#474747" font-weight="normal" textLength="3.6" lengthAdjust="spacingAndGlyphs" stroke="#474747" stroke-width="0.12" stroke-linejoin="round">0</text>
<line x1="67.06" y1="456.50" x2="67.06" y2="458.70" stroke="#333" stroke-width="1.0"/>
<text x="67.06" y="466.83" font-size="5.4" text-anchor="middle" fill="#474747" font-weight="normal" textLength="3.6" lengthAdjust="spacingAndGlyphs" stroke="#474747" stroke-width="0.12" stroke-linejoin="round">1</text>
<line x1="91.62" y1="456.50" x2="91.62" y2="458.70" stroke="#333" stroke-width="1.0"/>
<text x="91.62" y="466.83" font-size="5.4" text-anchor="middle" fill="#474747" font-weight="normal" textLength="3.6" lengthAdjust="spacingAndGlyphs" stroke="#474747" stroke-width="0.12" stroke-linejoin="round">2</text>
<line x1="116.18" y1="456.50" x2="116.18" y2="458.70" stroke="#333" stroke-width="1.0"/>
<text x="116.18" y="466.83" font-size="5.4" text-anchor="middle" fill="#474747" font-weight="normal" textLength="3.6" lengthAdjust="spacingAndGlyphs" stroke="#474747" stroke-width="0.12" stroke-linejoin="round">3</text>
<line x1="140.74" y1="456.50" x2="140.74" y2="458.70" stroke="#333" stroke-width="1.0"/>
<text x="140.74" y="466.83" font-size="5.4" text-anchor="middle" fill="#474747" font-weight="normal" textLength="3.6" lengthAdjust="spacingAndGlyphs" stroke="#474747" stroke-width="0.12" stroke-linejoin="round">4</text>
<line x1="165.30" y1="456.50" x2="165.30" y2="458.70" stroke="#333" stroke-width="1.0"/>
<text x="165.30" y="466.83" font-size="5.4" text-anchor="middle" fill="#474747" font-weight="normal" textLength="3.6" lengthAdjust="spacingAndGlyphs" stroke="#474747" stroke-width="0.12" stroke-linejoin="round">5</text>
<line x1="189.86" y1="456.50" x2="189.86" y2="458.70" stroke="#333" stroke-width="1.0"/>
<text x="189.86" y="466.83" font-size="5.4" text-anchor="middle" fill="#474747" font-weight="normal" textLength="3.6" lengthAdjust="spacingAndGlyphs" stroke="#474747" stroke-width="0.12" stroke-linejoin="round">6</text>
<line x1="214.42" y1="456.50" x2="214.42" y2="458.70" stroke="#333" stroke-width="1.0"/>
<text x="214.42" y="466.83" font-size="5.4" text-anchor="middle" fill="#474747" font-weight="normal" textLength="3.6" lengthAdjust="spacingAndGlyphs" stroke="#474747" stroke-width="0.12" stroke-linejoin="round">7</text>
<line x1="238.98" y1="456.50" x2="238.98" y2="458.70" stroke="#333" stroke-width="1.0"/>
<text x="238.98" y="466.83" font-size="5.4" text-anchor="middle" fill="#474747" font-weight="normal" textLength="3.6" lengthAdjust="spacingAndGlyphs" stroke="#474747" stroke-width="0.12" stroke-linejoin="round">8</text>
<text x="140.74" y="478.48" font-size="8.6" text-anchor="middle" fill="#333" font-weight="bold" textLength="13.4" lengthAdjust="spacingAndGlyphs" stroke="#333" stroke-width="0.3" stroke-linejoin="round">Years</text>
<text x="0" y="0" font-size="8.6" text-anchor="middle" fill="#333" font-weight="bold" textLength="9.6" lengthAdjust="spacingAndGlyphs" stroke="#333" stroke-width="0.3" stroke-linejoin="round" transform="translate(13.50,376.45) rotate(-90)">OS2</text>
<text x="123.60" y="302.19" font-size="6.4" text-anchor="start" fill="#333" font-weight="normal" textLength="14.2" lengthAdjust="spacingAndGlyphs" stroke="#333" stroke-width="0.12" stroke-linejoin="round">Strata</text>
<line x1="141.00" y1="300.00" x2="149.30" y2="300.00" stroke="#2f4e73" stroke-width="1.3"/>
<line x1="145.20" y1="298.60" x2="145.20" y2="301.40" stroke="#2f4e73" stroke-width="0.9"/>
<text x="152.30" y="302.19" font-size="6.4" text-anchor="start" fill="#333" font-weight="normal" textLength="5.8" lengthAdjust="spacingAndGlyphs" stroke="#333" stroke-width="0.12" stroke-linejoin="round">All</text>
<text x="32.80" y="488.22" font-size="6.2" text-anchor="start" fill="#222" font-weight="normal" textLength="37.0" lengthAdjust="spacingAndGlyphs" stroke="#222" stroke-width="0.12" stroke-linejoin="round">Number at risk</text>
<line x1="32.50" y1="492.50" x2="32.50" y2="518.20" stroke="#262626" stroke-width="1.1"/>
<line x1="31.95" y1="517.70" x2="249.00" y2="517.70" stroke="#262626" stroke-width="1.1"/>
<line x1="42.50" y1="518.20" x2="42.50" y2="520.50" stroke="#333" stroke-width="1.0"/>
<text x="42.50" y="529.13" font-size="5.4" text-anchor="middle" fill="#474747" font-weight="normal" textLength="3.6" lengthAdjust="spacingAndGlyphs" stroke="#474747" stroke-width="0.12" stroke-linejoin="round">0</text>
<line x1="67.06" y1="518.20" x2="67.06" y2="520.50" stroke="#333" stroke-width="1.0"/>
<text x="67.06" y="529.13" font-size="5.4" text-anchor="middle" fill="#474747" font-weight="normal" textLength="3.6" lengthAdjust="spacingAndGlyphs" stroke="#474747" stroke-width="0.12" stroke-linejoin="round">1</text>
<line x1="91.62" y1="518.20" x2="91.62" y2="520.50" stroke="#333" stroke-width="1.0"/>
<text x="91.62" y="529.13" font-size="5.4" text-anchor="middle" fill="#474747" font-weight="normal" textLength="3.6" lengthAdjust="spacingAndGlyphs" stroke="#474747" stroke-width="0.12" stroke-linejoin="round">2</text>
<line x1="116.18" y1="518.20" x2="116.18" y2="520.50" stroke="#333" stroke-width="1.0"/>
<text x="116.18" y="529.13" font-size="5.4" text-anchor="middle" fill="#474747" font-weight="normal" textLength="3.6" lengthAdjust="spacingAndGlyphs" stroke="#474747" stroke-width="0.12" stroke-linejoin="round">3</text>
<line x1="140.74" y1="518.20" x2="140.74" y2="520.50" stroke="#333" stroke-width="1.0"/>
<text x="140.74" y="529.13" font-size="5.4" text-anchor="middle" fill="#474747" font-weight="normal" textLength="3.6" lengthAdjust="spacingAndGlyphs" stroke="#474747" stroke-width="0.12" stroke-linejoin="round">4</text>
<line x1="165.30" y1="518.20" x2="165.30" y2="520.50" stroke="#333" stroke-width="1.0"/>
<text x="165.30" y="529.13" font-size="5.4" text-anchor="middle" fill="#474747" font-weight="normal" textLength="3.6" lengthAdjust="spacingAndGlyphs" stroke="#474747" stroke-width="0.12" stroke-linejoin="round">5</text>
<line x1="189.86" y1="518.20" x2="189.86" y2="520.50" stroke="#333" stroke-width="1.0"/>
<text x="189.86" y="529.13" font-size="5.4" text-anchor="middle" fill="#474747" font-weight="normal" textLength="3.6" lengthAdjust="spacingAndGlyphs" stroke="#474747" stroke-width="0.12" stroke-linejoin="round">6</text>
<line x1="214.42" y1="518.20" x2="214.42" y2="520.50" stroke="#333" stroke-width="1.0"/>
<text x="214.42" y="529.13" font-size="5.4" text-anchor="middle" fill="#474747" font-weight="normal" textLength="3.6" lengthAdjust="spacingAndGlyphs" stroke="#474747" stroke-width="0.12" stroke-linejoin="round">7</text>
<line x1="238.98" y1="518.20" x2="238.98" y2="520.50" stroke="#333" stroke-width="1.0"/>
<text x="238.98" y="529.13" font-size="5.4" text-anchor="middle" fill="#474747" font-weight="normal" textLength="3.6" lengthAdjust="spacingAndGlyphs" stroke="#474747" stroke-width="0.12" stroke-linejoin="round">8</text>
<text x="140.74" y="541.28" font-size="8.6" text-anchor="middle" fill="#333" font-weight="bold" textLength="13.4" lengthAdjust="spacingAndGlyphs" stroke="#333" stroke-width="0.3" stroke-linejoin="round">Years</text>
<line x1="29.50" y1="505.60" x2="32.50" y2="505.60" stroke="#333" stroke-width="1.0"/>
<text x="27.30" y="507.71" font-size="5.9" text-anchor="end" fill="#5f86bb" font-weight="normal" textLength="6.6" lengthAdjust="spacingAndGlyphs" stroke="#5f86bb" stroke-width="0.12" stroke-linejoin="round">All</text>
<text x="42.50" y="507.75" font-size="6.0" text-anchor="middle" fill="#2e2e2e" font-weight="normal" textLength="11.01" lengthAdjust="spacingAndGlyphs" stroke="#2e2e2e" stroke-width="0.12" stroke-linejoin="round">160</text>
<text x="67.06" y="507.75" font-size="6.0" text-anchor="middle" fill="#2e2e2e" font-weight="normal" textLength="7.34" lengthAdjust="spacingAndGlyphs" stroke="#2e2e2e" stroke-width="0.12" stroke-linejoin="round">85</text>
<text x="91.62" y="507.75" font-size="6.0" text-anchor="middle" fill="#2e2e2e" font-weight="normal" textLength="7.34" lengthAdjust="spacingAndGlyphs" stroke="#2e2e2e" stroke-width="0.12" stroke-linejoin="round">47</text>
<text x="116.18" y="507.75" font-size="6.0" text-anchor="middle" fill="#2e2e2e" font-weight="normal" textLength="7.34" lengthAdjust="spacingAndGlyphs" stroke="#2e2e2e" stroke-width="0.12" stroke-linejoin="round">27</text>
<text x="140.74" y="507.75" font-size="6.0" text-anchor="middle" fill="#2e2e2e" font-weight="normal" textLength="7.34" lengthAdjust="spacingAndGlyphs" stroke="#2e2e2e" stroke-width="0.12" stroke-linejoin="round">17</text>
<text x="165.30" y="507.75" font-size="6.0" text-anchor="middle" fill="#2e2e2e" font-weight="normal" textLength="3.67" lengthAdjust="spacingAndGlyphs" stroke="#2e2e2e" stroke-width="0.12" stroke-linejoin="round">9</text>
<text x="189.86" y="507.75" font-size="6.0" text-anchor="middle" fill="#2e2e2e" font-weight="normal" textLength="3.67" lengthAdjust="spacingAndGlyphs" stroke="#2e2e2e" stroke-width="0.12" stroke-linejoin="round">2</text>
<text x="214.42" y="507.75" font-size="6.0" text-anchor="middle" fill="#2e2e2e" font-weight="normal" textLength="3.67" lengthAdjust="spacingAndGlyphs" stroke="#2e2e2e" stroke-width="0.12" stroke-linejoin="round">1</text>
<text x="238.98" y="507.75" font-size="6.0" text-anchor="middle" fill="#2e2e2e" font-weight="normal" textLength="3.67" lengthAdjust="spacingAndGlyphs" stroke="#2e2e2e" stroke-width="0.12" stroke-linejoin="round">1</text>
<text x="0" y="0" font-size="8.2" text-anchor="middle" fill="#333" font-weight="bold" textLength="15.4" lengthAdjust="spacingAndGlyphs" stroke="#333" stroke-width="0.3" stroke-linejoin="round" transform="translate(13.10,505.60) rotate(-90)">Strata</text>
<path d="M42.00,304.50H43.17V306.83H44.33V309.17H45.50V311.50H46.65V314.10H47.80V316.70H48.95V319.30H50.10V321.90H51.80V324.20H52.10V327.40H52.40V330.60H53.60V334.00H55.30V337.50H56.75V338.65H58.20V339.80H59.37V340.77H60.53V341.73H61.70V342.70H62.85V344.70H64.00V346.70H65.13V347.87H66.27V349.03H67.40V350.20H68.85V351.65H70.30V353.10H72.00V356.00L76.10,356.30H77.55V356.70H79.00V357.10H80.15V357.95H81.30V358.80H82.53V358.98H83.75V359.15H84.97V359.32H86.20V359.50H87.70V361.50H89.60V363.50H90.00V366.20L93.50,366.20H94.30V368.20L101.00,368.20H101.50V370.20L107.50,370.20H108.10V374.20L111.20,374.20H112.30V377.30L114.20,377.30H114.60V380.00L130.00,380.00H130.40V382.55H130.80V385.10L135.40,385.10H136.55V386.80H137.70V388.50L165.00,388.50L165.00,394.60L178.50,394.60L178.50,412.50L238.80,412.50" fill="none" stroke="#2f4e73" stroke-width="1.3" stroke-linejoin="miter"/>
<line x1="94.60" y1="366.70" x2="94.60" y2="369.70" stroke="#2f4e73" stroke-width="0.9"/>
<line x1="100.40" y1="366.70" x2="100.40" y2="369.70" stroke="#2f4e73" stroke-width="0.9"/>
<line x1="104.60" y1="368.70" x2="104.60" y2="371.70" stroke="#2f4e73" stroke-width="0.9"/>
<line x1="124.60" y1="378.50" x2="124.60" y2="381.50" stroke="#2f4e73" stroke-width="0.9"/>
<line x1="133.00" y1="383.60" x2="133.00" y2="386.60" stroke="#2f4e73" stroke-width="0.9"/>
<line x1="146.20" y1="387.00" x2="146.20" y2="390.00" stroke="#2f4e73" stroke-width="0.9"/>
<line x1="150.00" y1="387.00" x2="150.00" y2="390.00" stroke="#2f4e73" stroke-width="0.9"/>
<line x1="151.50" y1="387.00" x2="151.50" y2="390.00" stroke="#2f4e73" stroke-width="0.9"/>
<line x1="154.60" y1="387.00" x2="154.60" y2="390.00" stroke="#2f4e73" stroke-width="0.9"/>
<line x1="161.50" y1="387.00" x2="161.50" y2="390.00" stroke="#2f4e73" stroke-width="0.9"/>
<line x1="168.30" y1="393.10" x2="168.30" y2="396.10" stroke="#2f4e73" stroke-width="0.9"/>
<line x1="171.50" y1="393.10" x2="171.50" y2="396.10" stroke="#2f4e73" stroke-width="0.9"/>
<line x1="191.30" y1="411.00" x2="191.30" y2="414.00" stroke="#2f4e73" stroke-width="0.9"/>
<line x1="238.80" y1="411.00" x2="238.80" y2="414.00" stroke="#2f4e73" stroke-width="0.9"/>
<text x="293.40" y="291.30" font-size="10.8" text-anchor="start" fill="#111" font-weight="bold" stroke="#111" stroke-width="0.3" stroke-linejoin="round">D</text>
<line x1="319.40" y1="296.90" x2="319.40" y2="456.30" stroke="#262626" stroke-width="1.1"/>
<line x1="318.85" y1="455.80" x2="513.20" y2="455.80" stroke="#262626" stroke-width="1.1"/>
<line x1="316.40" y1="448.10" x2="319.40" y2="448.10" stroke="#333" stroke-width="1.0"/>
<text x="314.10" y="450.28" font-size="6.1" text-anchor="end" fill="#474747" font-weight="normal" textLength="8.73" lengthAdjust="spacingAndGlyphs" stroke="#474747" stroke-width="0.12" stroke-linejoin="round">0.0</text>
<line x1="316.40" y1="419.36" x2="319.40" y2="419.36" stroke="#333" stroke-width="1.0"/>
<text x="314.10" y="421.54" font-size="6.1" text-anchor="end" fill="#474747" font-weight="normal" textLength="8.73" lengthAdjust="spacingAndGlyphs" stroke="#474747" stroke-width="0.12" stroke-linejoin="round">0.2</text>
<line x1="316.40" y1="390.62" x2="319.40" y2="390.62" stroke="#333" stroke-width="1.0"/>
<text x="314.10" y="392.80" font-size="6.1" text-anchor="end" fill="#474747" font-weight="normal" textLength="8.73" lengthAdjust="spacingAndGlyphs" stroke="#474747" stroke-width="0.12" stroke-linejoin="round">0.4</text>
<line x1="316.40" y1="361.88" x2="319.40" y2="361.88" stroke="#333" stroke-width="1.0"/>
<text x="314.10" y="364.06" font-size="6.1" text-anchor="end" fill="#474747" font-weight="normal" textLength="8.73" lengthAdjust="spacingAndGlyphs" stroke="#474747" stroke-width="0.12" stroke-linejoin="round">0.6</text>
<line x1="316.40" y1="333.14" x2="319.40" y2="333.14" stroke="#333" stroke-width="1.0"/>
<text x="314.10" y="335.32" font-size="6.1" text-anchor="end" fill="#474747" font-weight="normal" textLength="8.73" lengthAdjust="spacingAndGlyphs" stroke="#474747" stroke-width="0.12" stroke-linejoin="round">0.8</text>
<line x1="316.40" y1="304.40" x2="319.40" y2="304.40" stroke="#333" stroke-width="1.0"/>
<text x="314.10" y="306.58" font-size="6.1" text-anchor="end" fill="#474747" font-weight="normal" textLength="8.73" lengthAdjust="spacingAndGlyphs" stroke="#474747" stroke-width="0.12" stroke-linejoin="round">1.0</text>
<line x1="327.70" y1="456.30" x2="327.70" y2="458.50" stroke="#333" stroke-width="1.0"/>
<text x="327.70" y="466.63" font-size="5.4" text-anchor="middle" fill="#474747" font-weight="normal" textLength="3.6" lengthAdjust="spacingAndGlyphs" stroke="#474747" stroke-width="0.12" stroke-linejoin="round">0</text>
<line x1="349.78" y1="456.30" x2="349.78" y2="458.50" stroke="#333" stroke-width="1.0"/>
<text x="349.78" y="466.63" font-size="5.4" text-anchor="middle" fill="#474747" font-weight="normal" textLength="3.6" lengthAdjust="spacingAndGlyphs" stroke="#474747" stroke-width="0.12" stroke-linejoin="round">1</text>
<line x1="371.86" y1="456.30" x2="371.86" y2="458.50" stroke="#333" stroke-width="1.0"/>
<text x="371.86" y="466.63" font-size="5.4" text-anchor="middle" fill="#474747" font-weight="normal" textLength="3.6" lengthAdjust="spacingAndGlyphs" stroke="#474747" stroke-width="0.12" stroke-linejoin="round">2</text>
<line x1="393.94" y1="456.30" x2="393.94" y2="458.50" stroke="#333" stroke-width="1.0"/>
<text x="393.94" y="466.63" font-size="5.4" text-anchor="middle" fill="#474747" font-weight="normal" textLength="3.6" lengthAdjust="spacingAndGlyphs" stroke="#474747" stroke-width="0.12" stroke-linejoin="round">3</text>
<line x1="416.02" y1="456.30" x2="416.02" y2="458.50" stroke="#333" stroke-width="1.0"/>
<text x="416.02" y="466.63" font-size="5.4" text-anchor="middle" fill="#474747" font-weight="normal" textLength="3.6" lengthAdjust="spacingAndGlyphs" stroke="#474747" stroke-width="0.12" stroke-linejoin="round">4</text>
<line x1="438.10" y1="456.30" x2="438.10" y2="458.50" stroke="#333" stroke-width="1.0"/>
<text x="438.10" y="466.63" font-size="5.4" text-anchor="middle" fill="#474747" font-weight="normal" textLength="3.6" lengthAdjust="spacingAndGlyphs" stroke="#474747" stroke-width="0.12" stroke-linejoin="round">5</text>
<line x1="460.18" y1="456.30" x2="460.18" y2="458.50" stroke="#333" stroke-width="1.0"/>
<text x="460.18" y="466.63" font-size="5.4" text-anchor="middle" fill="#474747" font-weight="normal" textLength="3.6" lengthAdjust="spacingAndGlyphs" stroke="#474747" stroke-width="0.12" stroke-linejoin="round">6</text>
<line x1="482.26" y1="456.30" x2="482.26" y2="458.50" stroke="#333" stroke-width="1.0"/>
<text x="482.26" y="466.63" font-size="5.4" text-anchor="middle" fill="#474747" font-weight="normal" textLength="3.6" lengthAdjust="spacingAndGlyphs" stroke="#474747" stroke-width="0.12" stroke-linejoin="round">7</text>
<line x1="504.34" y1="456.30" x2="504.34" y2="458.50" stroke="#333" stroke-width="1.0"/>
<text x="504.34" y="466.63" font-size="5.4" text-anchor="middle" fill="#474747" font-weight="normal" textLength="3.6" lengthAdjust="spacingAndGlyphs" stroke="#474747" stroke-width="0.12" stroke-linejoin="round">8</text>
<text x="416.02" y="478.28" font-size="8.6" text-anchor="middle" fill="#333" font-weight="bold" textLength="13.4" lengthAdjust="spacingAndGlyphs" stroke="#333" stroke-width="0.3" stroke-linejoin="round">Years</text>
<text x="0" y="0" font-size="8.6" text-anchor="middle" fill="#333" font-weight="bold" textLength="9.6" lengthAdjust="spacingAndGlyphs" stroke="#333" stroke-width="0.3" stroke-linejoin="round" transform="translate(300.40,376.25) rotate(-90)">OS2</text>
<text x="452.10" y="301.79" font-size="6.4" text-anchor="start" fill="#333" font-weight="normal" textLength="38.8" lengthAdjust="spacingAndGlyphs" stroke="#333" stroke-width="0.12" stroke-linejoin="round">POD categories</text>
<line x1="452.10" y1="308.30" x2="460.80" y2="308.30" stroke="#2f4e73" stroke-width="1.4"/>
<line x1="456.40" y1="306.90" x2="456.40" y2="309.70" stroke="#2f4e73" stroke-width="0.9"/>
<text x="463.70" y="310.59" font-size="6.4" text-anchor="start" fill="#333" font-weight="normal" textLength="41.6" lengthAdjust="spacingAndGlyphs" stroke="#333" stroke-width="0.12" stroke-linejoin="round">POD = POD&gt;24</text>
<line x1="452.10" y1="317.60" x2="460.80" y2="317.60" stroke="#60a852" stroke-width="1.4"/>
<line x1="456.40" y1="316.20" x2="456.40" y2="319.00" stroke="#60a852" stroke-width="0.9"/>
<text x="463.70" y="319.89" font-size="6.4" text-anchor="start" fill="#333" font-weight="normal" textLength="43.8" lengthAdjust="spacingAndGlyphs" stroke="#333" stroke-width="0.12" stroke-linejoin="round">POD = POD6−24</text>
<line x1="452.10" y1="326.90" x2="460.80" y2="326.90" stroke="#ad3152" stroke-width="1.4"/>
<line x1="456.40" y1="325.50" x2="456.40" y2="328.30" stroke="#ad3152" stroke-width="0.9"/>
<text x="463.70" y="329.19" font-size="6.4" text-anchor="start" fill="#333" font-weight="normal" textLength="34.1" lengthAdjust="spacingAndGlyphs" stroke="#333" stroke-width="0.12" stroke-linejoin="round">POD = POD6</text>
<text x="319.70" y="488.02" font-size="6.2" text-anchor="start" fill="#222" font-weight="normal" textLength="37.0" lengthAdjust="spacingAndGlyphs" stroke="#222" stroke-width="0.12" stroke-linejoin="round">Number at risk</text>
<line x1="319.40" y1="492.30" x2="319.40" y2="518.00" stroke="#262626" stroke-width="1.1"/>
<line x1="318.85" y1="517.50" x2="513.20" y2="517.50" stroke="#262626" stroke-width="1.1"/>
<line x1="327.70" y1="518.00" x2="327.70" y2="520.30" stroke="#333" stroke-width="1.0"/>
<text x="327.70" y="528.93" font-size="5.4" text-anchor="middle" fill="#474747" font-weight="normal" textLength="3.6" lengthAdjust="spacingAndGlyphs" stroke="#474747" stroke-width="0.12" stroke-linejoin="round">0</text>
<line x1="349.78" y1="518.00" x2="349.78" y2="520.30" stroke="#333" stroke-width="1.0"/>
<text x="349.78" y="528.93" font-size="5.4" text-anchor="middle" fill="#474747" font-weight="normal" textLength="3.6" lengthAdjust="spacingAndGlyphs" stroke="#474747" stroke-width="0.12" stroke-linejoin="round">1</text>
<line x1="371.86" y1="518.00" x2="371.86" y2="520.30" stroke="#333" stroke-width="1.0"/>
<text x="371.86" y="528.93" font-size="5.4" text-anchor="middle" fill="#474747" font-weight="normal" textLength="3.6" lengthAdjust="spacingAndGlyphs" stroke="#474747" stroke-width="0.12" stroke-linejoin="round">2</text>
<line x1="393.94" y1="518.00" x2="393.94" y2="520.30" stroke="#333" stroke-width="1.0"/>
<text x="393.94" y="528.93" font-size="5.4" text-anchor="middle" fill="#474747" font-weight="normal" textLength="3.6" lengthAdjust="spacingAndGlyphs" stroke="#474747" stroke-width="0.12" stroke-linejoin="round">3</text>
<line x1="416.02" y1="518.00" x2="416.02" y2="520.30" stroke="#333" stroke-width="1.0"/>
<text x="416.02" y="528.93" font-size="5.4" text-anchor="middle" fill="#474747" font-weight="normal" textLength="3.6" lengthAdjust="spacingAndGlyphs" stroke="#474747" stroke-width="0.12" stroke-linejoin="round">4</text>
<line x1="438.10" y1="518.00" x2="438.10" y2="520.30" stroke="#333" stroke-width="1.0"/>
<text x="438.10" y="528.93" font-size="5.4" text-anchor="middle" fill="#474747" font-weight="normal" textLength="3.6" lengthAdjust="spacingAndGlyphs" stroke="#474747" stroke-width="0.12" stroke-linejoin="round">5</text>
<line x1="460.18" y1="518.00" x2="460.18" y2="520.30" stroke="#333" stroke-width="1.0"/>
<text x="460.18" y="528.93" font-size="5.4" text-anchor="middle" fill="#474747" font-weight="normal" textLength="3.6" lengthAdjust="spacingAndGlyphs" stroke="#474747" stroke-width="0.12" stroke-linejoin="round">6</text>
<line x1="482.26" y1="518.00" x2="482.26" y2="520.30" stroke="#333" stroke-width="1.0"/>
<text x="482.26" y="528.93" font-size="5.4" text-anchor="middle" fill="#474747" font-weight="normal" textLength="3.6" lengthAdjust="spacingAndGlyphs" stroke="#474747" stroke-width="0.12" stroke-linejoin="round">7</text>
<line x1="504.34" y1="518.00" x2="504.34" y2="520.30" stroke="#333" stroke-width="1.0"/>
<text x="504.34" y="528.93" font-size="5.4" text-anchor="middle" fill="#474747" font-weight="normal" textLength="3.6" lengthAdjust="spacingAndGlyphs" stroke="#474747" stroke-width="0.12" stroke-linejoin="round">8</text>
<text x="416.02" y="541.08" font-size="8.6" text-anchor="middle" fill="#333" font-weight="bold" textLength="13.4" lengthAdjust="spacingAndGlyphs" stroke="#333" stroke-width="0.3" stroke-linejoin="round">Years</text>
<line x1="316.40" y1="497.40" x2="319.40" y2="497.40" stroke="#333" stroke-width="1.0"/>
<text x="313.00" y="499.51" font-size="5.9" text-anchor="end" fill="#4f7bb8" font-weight="normal" textLength="23.8" lengthAdjust="spacingAndGlyphs" stroke="#4f7bb8" stroke-width="0.12" stroke-linejoin="round">POD&gt;24</text>
<text x="327.70" y="499.26" font-size="5.2" text-anchor="middle" fill="#2e2e2e" font-weight="normal" textLength="6.94" lengthAdjust="spacingAndGlyphs" stroke="#2e2e2e" stroke-width="0.12" stroke-linejoin="round">79</text>
<text x="349.78" y="499.26" font-size="5.2" text-anchor="middle" fill="#2e2e2e" font-weight="normal" textLength="6.94" lengthAdjust="spacingAndGlyphs" stroke="#2e2e2e" stroke-width="0.12" stroke-linejoin="round">57</text>
<text x="371.86" y="499.26" font-size="5.2" text-anchor="middle" fill="#2e2e2e" font-weight="normal" textLength="6.94" lengthAdjust="spacingAndGlyphs" stroke="#2e2e2e" stroke-width="0.12" stroke-linejoin="round">30</text>
<text x="393.94" y="499.26" font-size="5.2" text-anchor="middle" fill="#2e2e2e" font-weight="normal" textLength="6.94" lengthAdjust="spacingAndGlyphs" stroke="#2e2e2e" stroke-width="0.12" stroke-linejoin="round">18</text>
<text x="416.02" y="499.26" font-size="5.2" text-anchor="middle" fill="#2e2e2e" font-weight="normal" textLength="6.94" lengthAdjust="spacingAndGlyphs" stroke="#2e2e2e" stroke-width="0.12" stroke-linejoin="round">13</text>
<text x="438.10" y="499.26" font-size="5.2" text-anchor="middle" fill="#2e2e2e" font-weight="normal" textLength="3.47" lengthAdjust="spacingAndGlyphs" stroke="#2e2e2e" stroke-width="0.12" stroke-linejoin="round">7</text>
<text x="460.18" y="499.26" font-size="5.2" text-anchor="middle" fill="#2e2e2e" font-weight="normal" textLength="3.47" lengthAdjust="spacingAndGlyphs" stroke="#2e2e2e" stroke-width="0.12" stroke-linejoin="round">2</text>
<text x="482.26" y="499.26" font-size="5.2" text-anchor="middle" fill="#2e2e2e" font-weight="normal" textLength="3.47" lengthAdjust="spacingAndGlyphs" stroke="#2e2e2e" stroke-width="0.12" stroke-linejoin="round">1</text>
<text x="504.34" y="499.26" font-size="5.2" text-anchor="middle" fill="#2e2e2e" font-weight="normal" textLength="3.47" lengthAdjust="spacingAndGlyphs" stroke="#2e2e2e" stroke-width="0.12" stroke-linejoin="round">1</text>
<line x1="316.40" y1="505.00" x2="319.40" y2="505.00" stroke="#333" stroke-width="1.0"/>
<text x="313.00" y="507.11" font-size="5.9" text-anchor="end" fill="#72b866" font-weight="normal" textLength="26.4" lengthAdjust="spacingAndGlyphs" stroke="#72b866" stroke-width="0.12" stroke-linejoin="round">POD6−24</text>
<text x="327.70" y="506.86" font-size="5.2" text-anchor="middle" fill="#2e2e2e" font-weight="normal" textLength="6.94" lengthAdjust="spacingAndGlyphs" stroke="#2e2e2e" stroke-width="0.12" stroke-linejoin="round">51</text>
<text x="349.78" y="506.86" font-size="5.2" text-anchor="middle" fill="#2e2e2e" font-weight="normal" textLength="6.94" lengthAdjust="spacingAndGlyphs" stroke="#2e2e2e" stroke-width="0.12" stroke-linejoin="round">20</text>
<text x="371.86" y="506.86" font-size="5.2" text-anchor="middle" fill="#2e2e2e" font-weight="normal" textLength="6.94" lengthAdjust="spacingAndGlyphs" stroke="#2e2e2e" stroke-width="0.12" stroke-linejoin="round">12</text>
<text x="393.94" y="506.86" font-size="5.2" text-anchor="middle" fill="#2e2e2e" font-weight="normal" textLength="3.47" lengthAdjust="spacingAndGlyphs" stroke="#2e2e2e" stroke-width="0.12" stroke-linejoin="round">8</text>
<text x="416.02" y="506.86" font-size="5.2" text-anchor="middle" fill="#2e2e2e" font-weight="normal" textLength="3.47" lengthAdjust="spacingAndGlyphs" stroke="#2e2e2e" stroke-width="0.12" stroke-linejoin="round">4</text>
<text x="438.10" y="506.86" font-size="5.2" text-anchor="middle" fill="#2e2e2e" font-weight="normal" textLength="3.47" lengthAdjust="spacingAndGlyphs" stroke="#2e2e2e" stroke-width="0.12" stroke-linejoin="round">2</text>
<text x="460.18" y="506.86" font-size="5.2" text-anchor="middle" fill="#2e2e2e" font-weight="normal" textLength="3.47" lengthAdjust="spacingAndGlyphs" stroke="#2e2e2e" stroke-width="0.12" stroke-linejoin="round">0</text>
<text x="482.26" y="506.86" font-size="5.2" text-anchor="middle" fill="#2e2e2e" font-weight="normal" textLength="3.47" lengthAdjust="spacingAndGlyphs" stroke="#2e2e2e" stroke-width="0.12" stroke-linejoin="round">0</text>
<text x="504.34" y="506.86" font-size="5.2" text-anchor="middle" fill="#2e2e2e" font-weight="normal" textLength="3.47" lengthAdjust="spacingAndGlyphs" stroke="#2e2e2e" stroke-width="0.12" stroke-linejoin="round">0</text>
<line x1="316.40" y1="512.60" x2="319.40" y2="512.60" stroke="#333" stroke-width="1.0"/>
<text x="313.00" y="514.71" font-size="5.9" text-anchor="end" fill="#cc4467" font-weight="normal" textLength="15.4" lengthAdjust="spacingAndGlyphs" stroke="#cc4467" stroke-width="0.12" stroke-linejoin="round">POD6</text>
<text x="327.70" y="514.46" font-size="5.2" text-anchor="middle" fill="#2e2e2e" font-weight="normal" textLength="6.94" lengthAdjust="spacingAndGlyphs" stroke="#2e2e2e" stroke-width="0.12" stroke-linejoin="round">30</text>
<text x="349.78" y="514.46" font-size="5.2" text-anchor="middle" fill="#2e2e2e" font-weight="normal" textLength="3.47" lengthAdjust="spacingAndGlyphs" stroke="#2e2e2e" stroke-width="0.12" stroke-linejoin="round">8</text>
<text x="371.86" y="514.46" font-size="5.2" text-anchor="middle" fill="#2e2e2e" font-weight="normal" textLength="3.47" lengthAdjust="spacingAndGlyphs" stroke="#2e2e2e" stroke-width="0.12" stroke-linejoin="round">5</text>
<text x="393.94" y="514.46" font-size="5.2" text-anchor="middle" fill="#2e2e2e" font-weight="normal" textLength="3.47" lengthAdjust="spacingAndGlyphs" stroke="#2e2e2e" stroke-width="0.12" stroke-linejoin="round">1</text>
<text x="416.02" y="514.46" font-size="5.2" text-anchor="middle" fill="#2e2e2e" font-weight="normal" textLength="3.47" lengthAdjust="spacingAndGlyphs" stroke="#2e2e2e" stroke-width="0.12" stroke-linejoin="round">0</text>
<text x="438.10" y="514.46" font-size="5.2" text-anchor="middle" fill="#2e2e2e" font-weight="normal" textLength="3.47" lengthAdjust="spacingAndGlyphs" stroke="#2e2e2e" stroke-width="0.12" stroke-linejoin="round">0</text>
<text x="460.18" y="514.46" font-size="5.2" text-anchor="middle" fill="#2e2e2e" font-weight="normal" textLength="3.47" lengthAdjust="spacingAndGlyphs" stroke="#2e2e2e" stroke-width="0.12" stroke-linejoin="round">0</text>
<text x="482.26" y="514.46" font-size="5.2" text-anchor="middle" fill="#2e2e2e" font-weight="normal" textLength="3.47" lengthAdjust="spacingAndGlyphs" stroke="#2e2e2e" stroke-width="0.12" stroke-linejoin="round">0</text>
<text x="504.34" y="514.46" font-size="5.2" text-anchor="middle" fill="#2e2e2e" font-weight="normal" textLength="3.47" lengthAdjust="spacingAndGlyphs" stroke="#2e2e2e" stroke-width="0.12" stroke-linejoin="round">0</text>
<text x="0" y="0" font-size="7.4" text-anchor="middle" fill="#2a2a2a" font-weight="normal" textLength="10.8" lengthAdjust="spacingAndGlyphs" stroke="#2a2a2a" stroke-width="0.3" stroke-linejoin="round" transform="translate(270.70,505.10) rotate(-90)">POD</text>
<text x="0" y="0" font-size="7.4" text-anchor="middle" fill="#2a2a2a" font-weight="normal" textLength="24.4" lengthAdjust="spacingAndGlyphs" stroke="#2a2a2a" stroke-width="0.3" stroke-linejoin="round" transform="translate(279.50,505.30) rotate(-90)">categories</text>
<text x="328.20" y="422.50" font-size="6.6" fill="#333" textLength="25.9" lengthAdjust="spacingAndGlyphs"><tspan font-style="italic">P</tspan> &lt; .0001</text>
<path d="M328.00,304.40H329.15V305.10H330.30V305.80H332.20V308.70H333.63V308.83H335.07V308.97H336.50V309.10L336.50,315.40L345.20,315.40L345.20,317.30H346.47V317.63H347.73V317.97H349.00V318.30H350.00V320.20H351.00V322.10H352.20V322.60H353.40V323.10L353.40,325.50L360.60,325.50L360.60,327.90L367.80,327.90L367.80,328.80H369.20V333.20H370.00V335.65H370.80V338.10L380.80,338.10L380.80,342.70L386.90,342.70L386.90,347.50L390.80,347.50L390.80,352.60L407.70,352.60L407.70,358.10L413.10,358.10L413.10,364.00L438.00,364.00L438.00,376.20L450.40,376.20L450.40,400.30L504.70,400.30" fill="none" stroke="#2f4e73" stroke-width="1.3" stroke-linejoin="miter"/>
<line x1="373.80" y1="336.60" x2="373.80" y2="339.60" stroke="#2f4e73" stroke-width="0.9"/>
<line x1="376.90" y1="336.60" x2="376.90" y2="339.60" stroke="#2f4e73" stroke-width="0.9"/>
<line x1="379.20" y1="336.60" x2="379.20" y2="339.60" stroke="#2f4e73" stroke-width="0.9"/>
<line x1="415.40" y1="362.50" x2="415.40" y2="365.50" stroke="#2f4e73" stroke-width="0.9"/>
<line x1="423.10" y1="362.50" x2="423.10" y2="365.50" stroke="#2f4e73" stroke-width="0.9"/>
<line x1="425.40" y1="362.50" x2="425.40" y2="365.50" stroke="#2f4e73" stroke-width="0.9"/>
<line x1="427.70" y1="362.50" x2="427.70" y2="365.50" stroke="#2f4e73" stroke-width="0.9"/>
<line x1="434.60" y1="362.50" x2="434.60" y2="365.50" stroke="#2f4e73" stroke-width="0.9"/>
<line x1="440.40" y1="374.70" x2="440.40" y2="377.70" stroke="#2f4e73" stroke-width="0.9"/>
<line x1="461.70" y1="398.80" x2="461.70" y2="401.80" stroke="#2f4e73" stroke-width="0.9"/>
<line x1="504.70" y1="398.80" x2="504.70" y2="401.80" stroke="#2f4e73" stroke-width="0.9"/>
<path d="M328.40,303.80H329.80V305.30H331.70V308.20H332.70V308.90H333.70V309.60H333.90V312.00H334.10V314.40H335.10V318.80H336.50V319.70H337.00V324.00H337.25V326.40H337.50V328.80H337.83V331.37H338.17V333.93H338.50V336.50H338.95V339.40H339.40V342.30H340.90V346.20H341.70V348.65H342.50V351.10H343.85V354.45H345.20V357.80L347.20,357.80L347.20,366.50H348.33V367.63H349.47V368.77H350.60V369.90L352.60,369.90H352.95V372.60H353.30V375.30H354.30V378.30H355.30V381.30L361.20,381.30L361.20,385.30L370.40,385.30L370.40,390.70L374.50,390.70L374.50,395.30L386.70,395.30L386.70,400.80L392.90,400.80L392.90,406.30L407.70,406.30L407.70,412.80L443.70,412.80" fill="none" stroke="#60a852" stroke-width="1.3" stroke-linejoin="miter"/>
<line x1="398.20" y1="404.80" x2="398.20" y2="407.80" stroke="#60a852" stroke-width="0.9"/>
<line x1="402.40" y1="404.80" x2="402.40" y2="407.80" stroke="#60a852" stroke-width="0.9"/>
<line x1="414.00" y1="411.30" x2="414.00" y2="414.30" stroke="#60a852" stroke-width="0.9"/>
<line x1="419.30" y1="411.30" x2="419.30" y2="414.30" stroke="#60a852" stroke-width="0.9"/>
<line x1="425.70" y1="411.30" x2="425.70" y2="414.30" stroke="#60a852" stroke-width="0.9"/>
<line x1="443.70" y1="411.30" x2="443.70" y2="414.30" stroke="#60a852" stroke-width="0.9"/>
<path d="M328.20,304.40L328.40,308.70H328.48V311.58H328.56V314.46H328.64V317.34H328.72V320.22H328.80V323.10L330.80,323.10L330.80,327.90H331.25V330.30H331.70V332.70H332.70V333.70L333.00,340.40H333.35V342.80H333.70V345.20H334.15V347.60H334.60V350.00H334.85V352.90H335.10V355.80H335.53V358.47H335.97V361.13H336.40V363.80H336.87V366.73H337.33V369.67H337.80V372.60H338.45V375.60H339.10V378.60H340.15V381.30H341.20V384.00H341.50V387.05H341.80V390.10L345.90,390.10H346.55V393.10H347.20V396.10H347.65V398.85H348.10V401.60L413.00,401.60" fill="none" stroke="#ad3152" stroke-width="1.3" stroke-linejoin="miter"/>
<line x1="350.60" y1="400.10" x2="350.60" y2="403.10" stroke="#ad3152" stroke-width="0.9"/>
<line x1="376.00" y1="400.10" x2="376.00" y2="403.10" stroke="#ad3152" stroke-width="0.9"/>
<line x1="379.10" y1="400.10" x2="379.10" y2="403.10" stroke="#ad3152" stroke-width="0.9"/>
<line x1="388.70" y1="400.10" x2="388.70" y2="403.10" stroke="#ad3152" stroke-width="0.9"/>
<line x1="391.80" y1="400.10" x2="391.80" y2="403.10" stroke="#ad3152" stroke-width="0.9"/>
<line x1="413.00" y1="400.10" x2="413.00" y2="403.10" stroke="#ad3152" stroke-width="0.9"/>
</svg><div id="bd"></div></div></body></html>
